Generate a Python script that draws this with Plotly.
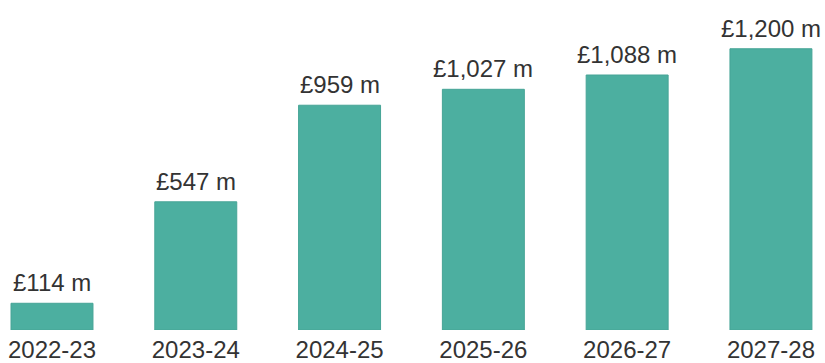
import plotly.graph_objects as go

years = ["2022-23", "2023-24", "2024-25", "2025-26", "2026-27", "2027-28"]
values = [114, 547, 959, 1027, 1088, 1200]
labels = ["£114 m", "£547 m", "£959 m", "£1,027 m", "£1,088 m", "£1,200 m"]

FONT = "Liberation Sans, Arial, sans-serif"
xs = list(range(len(years)))

fig = go.Figure(
    go.Bar(
        x=xs,
        y=values,
        width=0.57,
        marker=dict(color="#4cafa0", line=dict(color="#46a496", width=1)),
        hoverinfo="skip",
    )
)

# value labels above each bar
for x, v, t in zip(xs, values, labels):
    fig.add_annotation(
        x=x, y=v, text=t, showarrow=False,
        xanchor="center", yanchor="bottom", yshift=5,
        font=dict(family=FONT, size=24, color="#333333"),
    )

fig.update_layout(
    width=825,
    height=363,
    margin=dict(l=0, r=0, t=0, b=31),
    plot_bgcolor="white",
    paper_bgcolor="white",
    showlegend=False,
    xaxis=dict(
        range=[-0.3616, 5.376],
        tickmode="array",
        tickvals=xs,
        ticktext=years,
        showgrid=False,
        zeroline=False,
        showline=False,
        ticks="",
        ticklabelstandoff=3,
        tickfont=dict(family=FONT, size=24, color="#333333"),
    ),
    yaxis=dict(range=[0, 1408], visible=False),
)

fig.write_html("out.html")
